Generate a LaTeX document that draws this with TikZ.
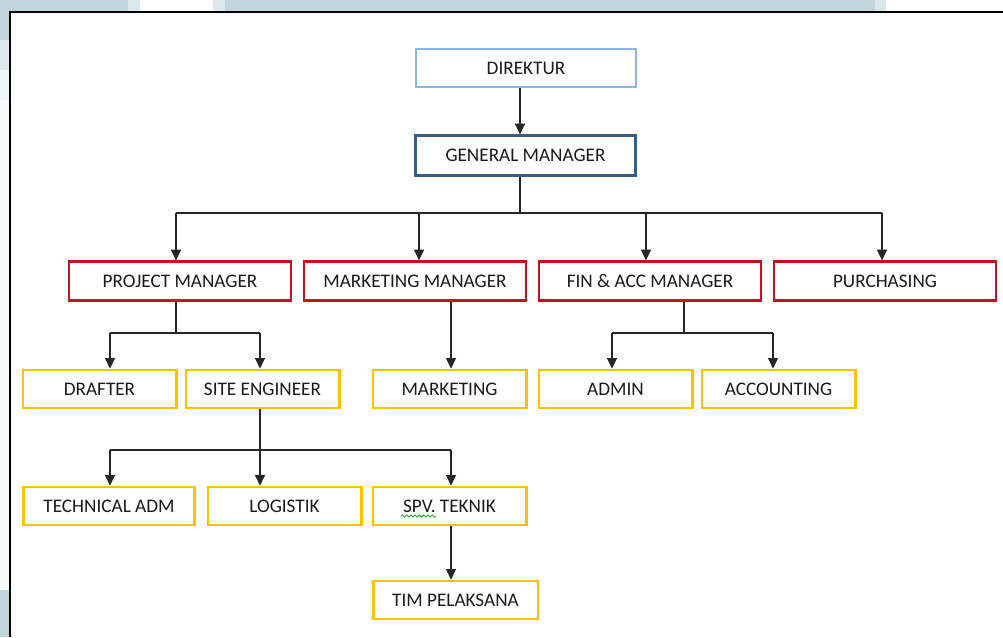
\documentclass[tikz,border=0pt]{standalone}
\usepackage{fontspec}
\setmainfont{Carlito}
\usetikzlibrary{arrows.meta,decorations.pathmorphing}
\definecolor{bgblue}{HTML}{C2D5DB}
\definecolor{bgmid}{HTML}{DCE7EB}
\definecolor{bglight}{HTML}{EEF5F7}
\definecolor{lblue}{HTML}{8DB3E2}
\definecolor{dblue}{HTML}{385D8A}
\definecolor{bred}{HTML}{C0141E}
\definecolor{byel}{HTML}{FFC000}
\definecolor{txt}{HTML}{1A1A1A}
\begin{document}
\begin{tikzpicture}[x=0.75pt,y=-0.75pt,
  every node/.style={font=\fontsize{14.4}{16}\selectfont, text=txt, inner sep=0pt, fill=white, text height=9.3pt, text depth=0pt},
  lbbox/.style={draw=lblue, line width=1.8pt, minimum width=165pt, minimum height=28.5pt},
  dbbox/.style={draw=dblue, line width=2.2pt, minimum width=165pt, minimum height=29.5pt},
  redbox/.style={draw=bred, line width=2pt, minimum width=166.5pt, minimum height=29pt},
  yelbox/.style={draw=byel, line width=2pt, minimum width=115pt, minimum height=28.5pt},
  arr/.style={draw=black!85, line width=0.9pt, -{Triangle[length=8pt,width=7.5pt]}},
  ln/.style={draw=black!85, line width=0.9pt}]
\useasboundingbox (0,0) rectangle (1003,637);
% background
\fill[bgblue] (0,0) rectangle (1003,12);
\fill[bgmid] (128,0) rectangle (225,11);
\fill[white] (140,0) rectangle (213,11);
\fill[bgmid] (875,0) rectangle (886,11);
\fill[white] (886,0) rectangle (1003,11);
\fill[bgblue] (0,0) rectangle (9,40);
\fill[bgmid] (0,40) rectangle (9,70);
\fill[bglight] (0,70) rectangle (9,100);
\fill[white!60!bglight] (0,100) rectangle (9,590);
\fill[bgblue] (0,590) rectangle (9,637);
\fill[white] (10,12) rectangle (1003,637);
\draw[black, line width=1.9pt] (10,637) -- (10,12) -- (1003,12);
% nodes
\node[lbbox] (dir) at (526,68) {DIREKTUR};
\node[dbbox] (gm) at (525.5,155.5) {GENERAL MANAGER};
\node[redbox] (pm) at (180,281) {PROJECT MANAGER};
\node[redbox] (mm) at (415,281) {MARKETING MANAGER};
\node[redbox] (fin) at (650,281) {FIN \& ACC MANAGER};
\node[redbox] (pur) at (885,281) {PURCHASING};
\node[yelbox] (dra) at (99.5,389) {DRAFTER};
\node[yelbox] (site) at (262.5,389) {SITE ENGINEER};
\node[yelbox] (mkt) at (449.5,389) {MARKETING};
\node[yelbox] (adm) at (615.5,389) {ADMIN};
\node[yelbox] (acc) at (778.5,389) {ACCOUNTING};
\node[yelbox, minimum width=128.5pt] (tech) at (109,506) {TECHNICAL ADM};
\node[yelbox] (log) at (284.5,506) {LOGISTIK};
\node[yelbox] (spv) at (449.5,506) {SPV. TEKNIK};
\node[yelbox, minimum width=123.5pt] (tim) at (455.5,600) {TIM PELAKSANA};
% spell-check squiggle
\draw[green!60!black, line width=0.5pt, decorate, decoration={snake, amplitude=0.9pt, segment length=3.2pt}] (401,516) -- (436,516);
% connectors
\coordinate (c0) at (520,213);
\coordinate (b1) at (176,213);
\coordinate (b2) at (419,213);
\coordinate (b3) at (646,213);
\coordinate (b4) at (882,213);
\draw[arr] (dir.south -| c0) -- (gm.north -| c0);
\draw[ln] (gm.south -| c0) -- (c0);
\draw[ln] (b1) -- (b4);
\draw[arr] (b1) -- (b1 |- pm.north);
\draw[arr] (b2) -- (b2 |- mm.north);
\draw[arr] (b3) -- (b3 |- fin.north);
\draw[arr] (b4) -- (b4 |- pur.north);
% PM children
\coordinate (p0) at (176,333);
\coordinate (p1) at (110,333);
\coordinate (p2) at (260,333);
\draw[ln] (pm.south -| p0) -- (p0);
\draw[ln] (p1) -- (p2);
\draw[arr] (p1) -- (p1 |- dra.north);
\draw[arr] (p2) -- (p2 |- site.north);
% MM child
\coordinate (m0) at (451,333);
\draw[arr] (mm.south -| m0) -- (m0 |- mkt.north);
% FIN children
\coordinate (f0) at (684,333);
\coordinate (f1) at (612,333);
\coordinate (f2) at (773,333);
\draw[ln] (fin.south -| f0) -- (f0);
\draw[ln] (f1) -- (f2);
\draw[arr] (f1) -- (f1 |- adm.north);
\draw[arr] (f2) -- (f2 |- acc.north);
% SITE children
\coordinate (s0) at (260,450);
\coordinate (s1) at (110,450);
\coordinate (s2) at (451,450);
\draw[ln] (s1) -- (s2);
\draw[arr] (site.south -| s0) -- (s0 |- log.north);
\draw[arr] (s1) -- (s1 |- tech.north);
\draw[arr] (s2) -- (s2 |- spv.north);
% SPV child
\draw[arr] (spv.south -| s2) -- (s2 |- tim.north);
\end{tikzpicture}
\end{document}
